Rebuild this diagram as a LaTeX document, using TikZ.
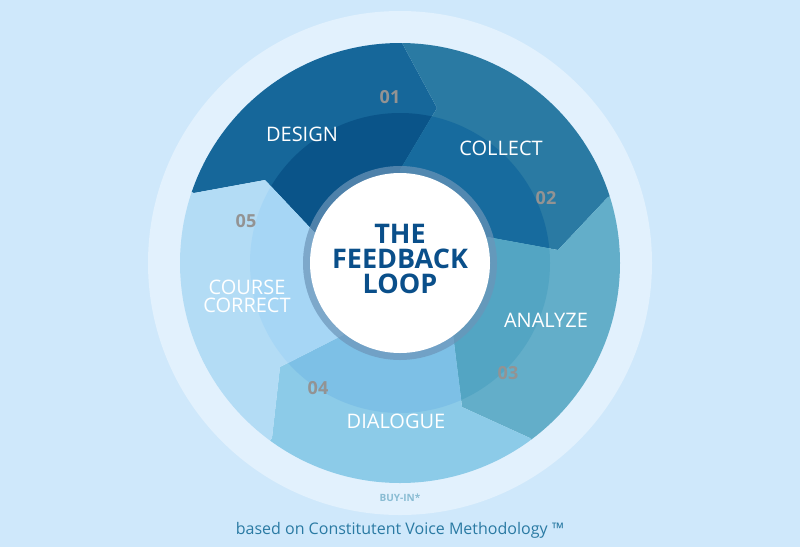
\documentclass[tikz,border=0pt]{standalone}
\usepackage{fontspec}
\setmainfont{Open Sans}
\usetikzlibrary{calc}
\begin{document}
\begin{tikzpicture}[x=1pt,y=-1pt,
  lbl/.style={text=white,font=\fontsize{20}{22}\selectfont,align=center},
  num/.style={text=gray!85,font=\bfseries\fontsize{18}{20}\selectfont},
  ttl/.style={font=\bfseries\fontsize{27}{25}\selectfont,align=center}]
\definecolor{bg}{HTML}{CFE8FB}
\definecolor{ring}{HTML}{E2F1FD}
\definecolor{aO}{HTML}{16679A}\definecolor{aI}{HTML}{0A5489}
\definecolor{bO}{HTML}{2A7AA3}\definecolor{bI}{HTML}{176B9E}
\definecolor{cO}{HTML}{63AEC9}\definecolor{cI}{HTML}{53A5C3}
\definecolor{dO}{HTML}{8CCBE8}\definecolor{dI}{HTML}{7DC0E6}
\definecolor{eO}{HTML}{B3DCF5}\definecolor{eI}{HTML}{A6D6F5}
\definecolor{ttlc}{HTML}{0A4F8A}
\fill[bg] (0,0) rectangle (800,547);
\useasboundingbox (0,0) rectangle (800,547);
\coordinate (C) at (400,263);
\fill[ring] (C) circle[radius=252];
\coordinate (i1) at (315,233);\coordinate (m1) at (265,180);\coordinate (o1) at (194,193);
\coordinate (i2) at (400,170);\coordinate (m2) at (437,108);\coordinate (o2) at (402,43);
\coordinate (i3) at (487,237);\coordinate (m3) at (558,250);\coordinate (o3) at (608,197);
\coordinate (i4) at (453,335);\coordinate (m4) at (462,407);\coordinate (o4) at (530,438);
\coordinate (i5) at (343,335);\coordinate (m5) at (280,367);\coordinate (o5) at (272,438);
\foreach \a/\b/\co/\ci in {1/2/aO/aI,2/3/bO/bI,3/4/cO/cI,4/5/dO/dI,5/1/eO/eI}{
  \begin{scope}
    \clip (C) circle[radius=220];
    \fill[\co] (C) -- (i\a) -- (m\a) -- (o\a) -- ($(C)!2.2!(o\a)$) -- ($(C)!2.2!(o\b)$) -- (o\b) -- (m\b) -- (i\b) -- cycle;
  \end{scope}
  \begin{scope}
    \clip (C) circle[radius=150];
    \fill[\ci] (C) -- (i\a) -- (m\a) -- (o\a) -- ($(C)!2.2!(o\a)$) -- ($(C)!2.2!(o\b)$) -- (o\b) -- (m\b) -- (i\b) -- cycle;
  \end{scope}
}
\fill[ttlc!60!white,opacity=0.7] (C) circle[radius=97];
\fill[white] (C) circle[radius=90];
\node[ttl,text=ttlc] (t) at (400,259) {THE\\FEEDBACK\\LOOP};
\node[lbl] (l1) at (302,134) {DESIGN};
\node[lbl] (l2) at (501,148) {COLLECT};
\node[lbl] (l3) at (546,320) {ANALYZE};
\node[lbl] (l4) at (396,421) {DIALOGUE};
\node[lbl] (l5) at (247,296) {COURSE\\[-4pt]CORRECT};
\node[num] (n1) at (390,97) {01};
\node[num] (n2) at (546,198) {02};
\node[num] (n3) at (508,373) {03};
\node[num] (n4) at (318,388) {04};
\node[num] (n5) at (246,221) {05};
\node[text=dO!80!gray,font=\bfseries\fontsize{10}{12}\selectfont] (b) at (400,498) {BUY-IN*};
\node[text=bO,font=\fontsize{16}{18}\selectfont] (f) at (400,530) {based on Constitutent Voice Methodology ™};
\end{tikzpicture}
\end{document}
